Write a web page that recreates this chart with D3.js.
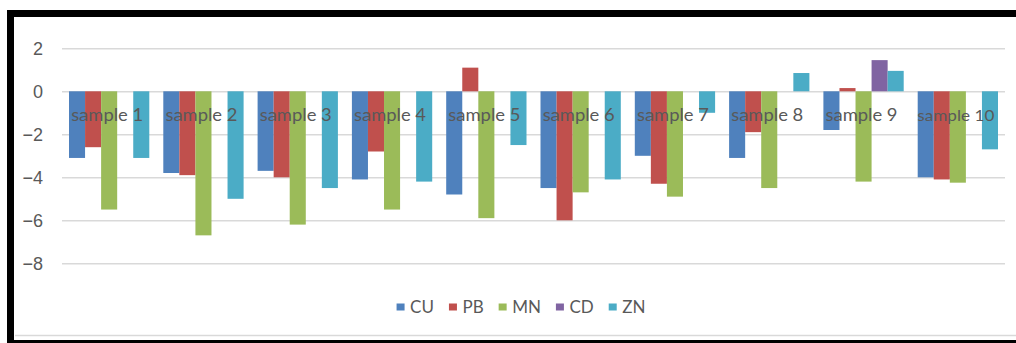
<!DOCTYPE html>
<html>
<head>
<meta charset="utf-8">
<script src="https://cdn.jsdelivr.net/npm/d3@7"></script>
<style>
  body { margin: 0; background: #fff; }
  svg { display: block; font-family: Lato, "Open Sans", sans-serif; }
  .grid line { stroke: #d9d9d9; stroke-width: 1.5; }
  .grid path { display: none; }
  .grid text { fill: #595959; font-size: 18px; }
</style>
</head>
<body>
<div id="plot"></div>
<script>
const categories = ['sample 1', 'sample 2', 'sample 3', 'sample 4', 'sample 5',
  'sample 6', 'sample 7', 'sample 8', 'sample 9', 'sample 10'];
const seriesNames = ['CU', 'PB', 'MN', 'CD', 'ZN'];
const cu = [-3.1, -3.8, -3.7, -4.1, -4.8, -4.5, -3.0, -3.1, -1.8, -4.0];
const pb = [-2.6, -3.9, -4.0, -2.8, 1.1, -6.0, -4.3, -1.9, 0.15, -4.1];
const mn = [-5.5, -6.7, -6.2, -5.5, -5.9, -4.7, -4.9, -4.5, -4.2, -4.25];
const cd = [0, 0, 0, 0, 0, 0, 0, 0, 1.45, 0];
const zn = [-3.1, -5.0, -4.5, -4.2, -2.5, -4.1, -1.0, 0.85, 0.95, -2.7];
const yTicks = [2, 0, -2, -4, -6, -8];

const colors = ['#4f81bd', '#c0504d', '#9bbb59', '#8064a2', '#4bacc6'];
const values = [cu, pb, mn, cd, zn];

const W = 1016, H = 343;
const plotL = 62, plotR = 1005, plotT = 48.3, plotB = 263.3;

const svg = d3.select('#plot').append('svg')
  .attr('width', W)
  .attr('height', H);

const x0 = d3.scaleBand()
  .domain(categories)
  .range([plotL, plotR])
  .padding(0);

const x1 = d3.scaleBand()
  .domain(seriesNames)
  .range([7, x0.bandwidth() - 7])
  .padding(0);

const y = d3.scaleLinear()
  .domain([-8, 2])
  .range([plotB, plotT]);

// gridlines + tick labels
svg.append('g')
  .attr('class', 'grid')
  .attr('transform', `translate(${plotL},0)`)
  .call(d3.axisLeft(y)
    .tickValues(yTicks)
    .tickSize(-(plotR - plotL))
    .tickPadding(19)
    .tickFormat(d3.format('d')))

// bars
const rows = [];
categories.forEach((c, i) => {
  seriesNames.forEach((s, j) => {
    rows.push({cat: c, series: s, value: values[j][i], color: colors[j]});
  });
});

svg.append('g').selectAll('rect')
  .data(rows.filter(d => d.value !== 0))
  .enter()
  .append('rect')
  .attr('x', d => x0(d.cat) + x1(d.series))
  .attr('y', d => y(Math.max(0, d.value)))
  .attr('width', x1.bandwidth())
  .attr('height', d => Math.abs(y(d.value) - y(0)))
  .attr('fill', d => d.color);

// category labels sit just under the zero line
svg.append('g').selectAll('text')
  .data(categories)
  .enter()
  .append('text')
  .attr('x', d => x0(d) + x0.bandwidth() / 2 - 2)
  .attr('y', y(0) + 30)
  .attr('text-anchor', 'middle')
  .attr('fill', '#595959')
  .attr('font-size', d => d === 'sample 10' ? 15 : 18)
  .attr('textLength', d => d === 'sample 10' ? 77 : 72)
  .attr('lengthAdjust', 'spacingAndGlyphs')
  .text(d => d);

// legend
const legend = svg.append('g');
let lx = 0;
const items = legend.selectAll('g')
  .data(seriesNames)
  .enter()
  .append('g');
items.append('rect')
  .attr('y', -3.5)
  .attr('width', 8)
  .attr('height', 7)
  .attr('fill', (d, i) => colors[i]);
items.append('text')
  .attr('x', 13.5)
  .attr('y', 6)
  .attr('fill', '#595959')
  .attr('font-size', 17)
  .text(d => d);
items.each(function () {
  const g = d3.select(this);
  g.attr('transform', `translate(${lx},0)`);
  lx += 13.5 + g.select('text').node().getComputedTextLength() + 15;
});
const legendW = lx - 15;
legend.attr('transform', `translate(${521 - legendW / 2},307)`);

// chart area bottom edge and the black frame of the screenshot
svg.append('line')
  .attr('x1', 15).attr('x2', W)
  .attr('y1', 335.5).attr('y2', 335.5)
  .attr('stroke', '#d9d9d9')
  .attr('stroke-width', 1.5);

svg.append('rect').attr('x', 7).attr('y', 10).attr('width', W - 7).attr('height', 7).attr('fill', '#000');
svg.append('rect').attr('x', 7).attr('y', 10).attr('width', 7).attr('height', H - 10).attr('fill', '#000');
svg.append('rect').attr('x', 7).attr('y', 340).attr('width', W - 7).attr('height', 3).attr('fill', '#000');
</script>
</body>
</html>
